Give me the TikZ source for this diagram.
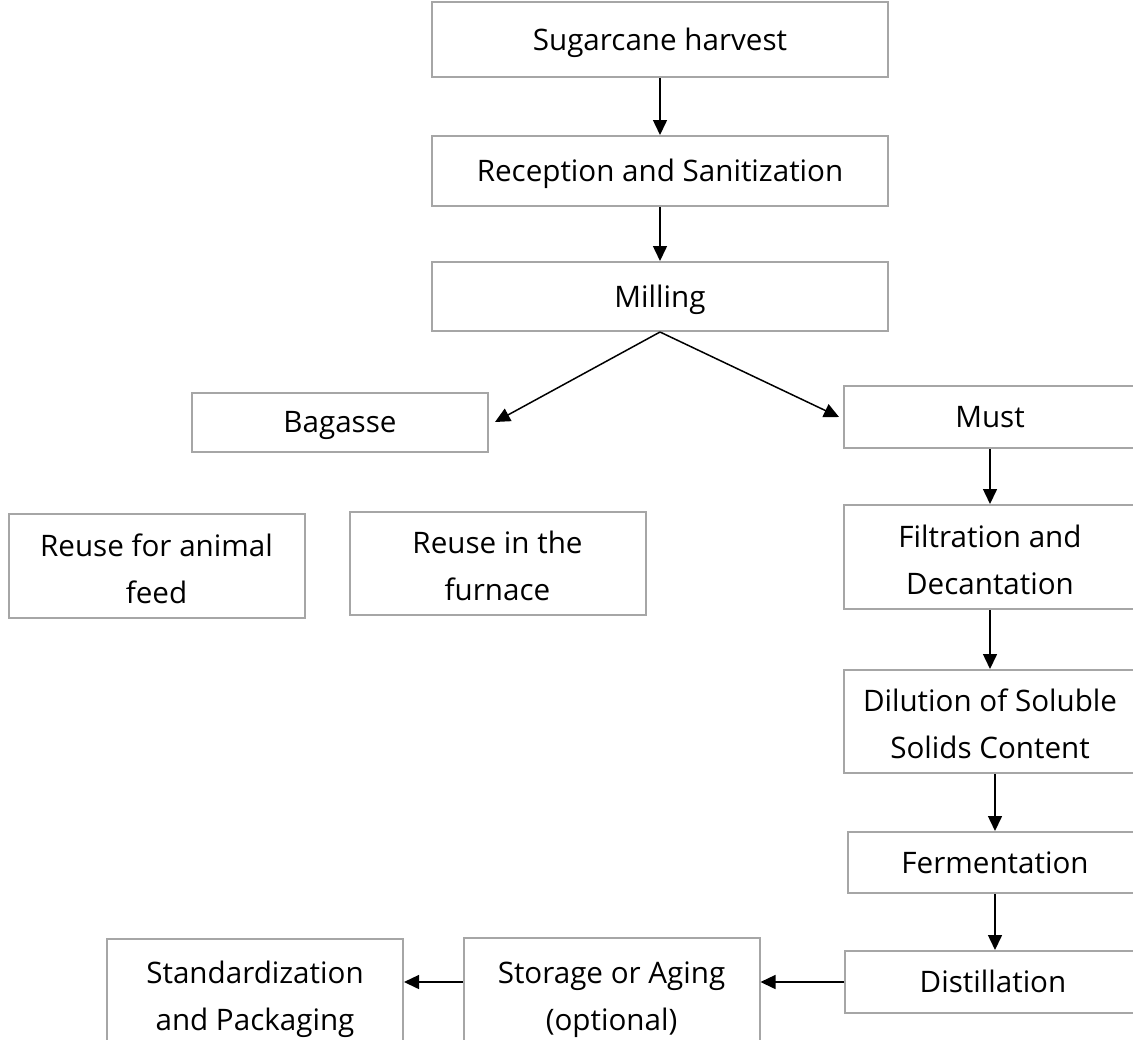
\documentclass[tikz,border=0pt]{standalone}
\usepackage{fontspec}
\setmainfont{Open Sans}
\usetikzlibrary{arrows.meta}
\definecolor{boxgray}{HTML}{A6A6A6}
\newcommand{\topstrut}{\rule{0pt}{18pt}}
\begin{document}
\begin{tikzpicture}[x=0.5pt,y=-0.5pt,
	stagebox/.style={draw=boxgray, line width=1pt, align=center, inner sep=0pt,
		minimum width=148pt, font=\fontsize{14.8}{23.5}\selectfont,
		execute at begin node={\rule[-0.3em]{0pt}{1.314em}}},
	flow/.style={line width=0.75pt, -{Triangle[length=7.5pt,width=7pt]}}]
	\useasboundingbox (0,0) rectangle (1133,1039);
	\clip (0,0) rectangle (1133,1039);
	\node[stagebox, minimum width=228pt, minimum height=37.5pt] (harvest) at (660,39.5) {Sugarcane harvest};
	\node[stagebox, minimum width=228pt, minimum height=35pt] (reception) at (660,171) {Reception and Sanitization};
	\node[stagebox, minimum width=228pt, minimum height=34.5pt] (milling) at (660,296.5) {Milling};
	\node[stagebox, minimum height=29.5pt] (bagasse) at (340,422) {Bagasse};
	\node[stagebox, minimum width=146pt, minimum height=31pt] (must) at (990,417) {Must};
	\node[stagebox, minimum height=52pt] (feed) at (156.5,566) {\topstrut Reuse for animal\\feed};
	\node[stagebox, minimum height=51.5pt] (furnace) at (497.5,563.5) {\topstrut Reuse in the\\furnace};
	\node[stagebox, minimum width=146pt, minimum height=52pt] (filtration) at (990,557) {\topstrut Filtration and\\Decantation};
	\node[stagebox, minimum width=146pt, minimum height=51.5pt] (dilution) at (990,721.5) {\topstrut Dilution of Soluble\\Solids Content};
	\node[stagebox, minimum width=147pt, minimum height=30.5pt] (fermentation) at (995,862.5) {Fermentation};
	\node[stagebox, minimum height=31pt] (distillation) at (993,982) {Distillation};
	\node[stagebox, minimum height=55pt] (storage) at (611.5,993) {\topstrut Storage or Aging\\(optional)};
	\node[stagebox, minimum height=55pt] (packaging) at (255,993.5) {\topstrut Standardization\\and Packaging};

	\draw[flow] (harvest) -- (reception);
	\draw[flow] (reception) -- (milling);
	\draw[flow] (milling.south) -- ([xshift=3pt]bagasse.east);
	\draw[flow] (milling.south) -- ([xshift=-2pt]must.west);
	\draw[flow] (must.south -| filtration.south) -- (filtration.north);
	\draw[flow] (filtration) -- (dilution);
	\draw[flow] ([xshift=2.5pt]dilution.south) -- (fermentation.north);
	\draw[flow] (fermentation) -- (fermentation.south |- distillation.north);
	\draw[flow] (distillation.west) -- (distillation.west -| storage.east);
	\draw[flow] (storage.west |- distillation.west) -- (packaging.east |- distillation.west);
\end{tikzpicture}
\end{document}
